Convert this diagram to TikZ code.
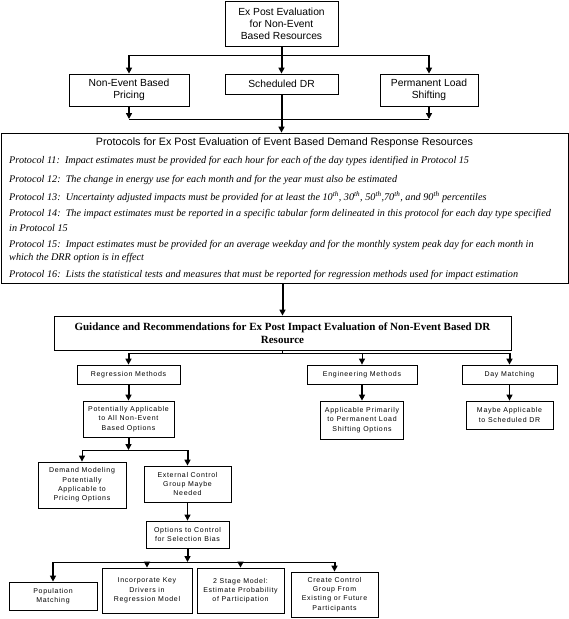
\documentclass[tikz,border=0pt]{standalone}
\usepackage{fontspec}
\setmainfont{Liberation Serif}
\newfontfamily\arialfam{Liberation Sans}
\newfontfamily\smallsansfam[LetterSpace=10]{Liberation Sans}
\usetikzlibrary{arrows.meta}
\newcommand\bigsans{\arialfam\fontsize{10.3}{12}\selectfont}
\newcommand\smallfnt{\smallsansfam\fontsize{7}{9.3}\selectfont}
\newcommand\protfnt{\fontsize{10.2}{12}\selectfont\itshape}
\begin{document}
\begin{tikzpicture}[x=1pt,y=-1pt,
  box/.style={draw, line width=0.8pt, inner sep=0pt, align=center, font=\bigsans},
  sbox/.style={draw, line width=0.8pt, inner sep=0pt, align=center, font=\smallfnt},
  thk/.style={line width=2pt, -{Triangle[width=6pt,length=6pt]}},
  thn/.style={line width=1pt, -{Triangle[width=6pt,length=6pt]}},
  ln/.style={line width=1pt},
  ptxt/.style={anchor=west, inner sep=0pt, font=\protfnt}]
\useasboundingbox (0,0) rectangle (569,619);
% top level
\node[box, minimum width=113pt, minimum height=45pt] (top) at (281.5,23.5) {Ex Post Evaluation\\for Non-Event\\Based Resources};
\node[box, minimum width=120pt, minimum height=32pt] (nebp) at (129,90) {Non-Event Based\\Pricing};
\node[box, minimum width=113pt, minimum height=20pt] (sched) at (281.5,84) {Scheduled DR};
\node[box, minimum width=98pt, minimum height=32pt] (pls) at (429,90) {Permanent Load\\Shifting};
% protocols
\node[draw, line width=0.8pt, minimum width=567pt, minimum height=150pt, inner sep=0pt] (prot) at (284.5,208) {};
\node[inner sep=0pt, font=\arialfam\fontsize{10.7}{12}\selectfont] (ptitle) at (284.5,143) {Protocols for Ex Post Evaluation of Event Based Demand Response Resources};
\node[ptxt] (p11) at (9,161) {Protocol 11:\ \ Impact estimates must be provided for each hour for each of the day types identified in Protocol 15};
\node[ptxt] (p12) at (9,180) {Protocol 12:\ \ The change in energy use for each month and for the year must also be estimated};
\node[ptxt] (p13) at (9,197) {Protocol 13:\ \ Uncertainty adjusted impacts must be provided for at least the 10\textsuperscript{th}, 30\textsuperscript{th}, 50\textsuperscript{th},70\textsuperscript{th}, and 90\textsuperscript{th} percentiles};
\node[ptxt] (p14a) at (9,214) {Protocol 14:\ \ The impact estimates must be reported in a specific tabular form delineated in this protocol for each day type specified};
\node[ptxt] (p14b) at (9,228) {in Protocol 15};
\node[ptxt] (p15a) at (9,245) {Protocol 15:\ \ Impact estimates must be provided for an average weekday and for the monthly system peak day for each month in};
\node[ptxt] (p15b) at (9,258) {which the DRR option is in effect};
\node[ptxt] (p16) at (9,275) {Protocol 16:\ \ Lists the statistical tests and measures that must be reported for regression methods used for impact estimation};
% guidance
\node[draw, line width=0.8pt, minimum width=457pt, minimum height=34pt, inner sep=0pt, align=center, font=\fontsize{11}{13}\selectfont\bfseries] (guid) at (282.5,333) {Guidance and Recommendations for Ex Post Impact Evaluation of Non-Event Based DR\\Resource};
% methods
\node[sbox, minimum width=103pt, minimum height=19pt] (reg) at (128.5,374.5) {Regression Methods};
\node[sbox, minimum width=110pt, minimum height=19pt] (eng) at (362,374.5) {Engineering Methods};
\node[sbox, minimum width=95pt, minimum height=19pt] (day) at (509.5,374.5) {Day Matching};
\node[sbox, minimum width=91pt, minimum height=36pt] (pot) at (128.5,419) {Potentially Applicable\\to All Non-Event\\Based Options};
\node[sbox, minimum width=83pt, minimum height=38pt] (app) at (362,420) {Applicable Primarily\\to Permanent Load\\Shifting Options};
\node[sbox, minimum width=87pt, minimum height=28pt] (maybe) at (509.5,415) {Maybe Applicable\\to Scheduled DR};
\node[sbox, minimum width=88pt, minimum height=46pt] (dem) at (82,485) {Demand Modeling\\Potentially\\Applicable to\\Pricing Options};
\node[sbox, minimum width=87pt, minimum height=36pt] (ext) at (187.5,484) {External Control\\Group Maybe\\Needed};
\node[sbox, minimum width=83pt, minimum height=27pt] (opt) at (187.5,534.5) {Options to Control\\for Selection Bias};
\node[sbox, minimum width=88pt, minimum height=28pt] (popm) at (53,596) {Population\\Matching};
\node[sbox, minimum width=90pt, minimum height=45pt] (inc) at (147,590.5) {Incorporate Key\\Drivers in\\Regression Model};
\node[sbox, minimum width=87pt, minimum height=45pt] (stg) at (240.5,590.5) {2 Stage Model:\\Estimate Probability\\of Participation};
\node[sbox, minimum width=87pt, minimum height=45pt] (crt) at (334.5,594.5) {Create Control\\Group From\\Existing or Future\\Participants};
% line coordinates
\coordinate (h1) at (0,55);
\coordinate (h2) at (0,119);
\coordinate (h3) at (0,353);
\coordinate (h4) at (0,450);
\coordinate (h5) at (0,562);
% top connectors
\draw[ln] (nebp.north |- h1) -- (pls.north |- h1);
\draw[thk] (top.south) -- (sched.north);
\draw[thk] (nebp.north |- h1) -- (nebp.north);
\draw[thk] (pls.north |- h1) -- (pls.north);
\draw[ln] (nebp.south |- h2) -- (pls.south |- h2);
\draw[thk] (nebp.south) -- (nebp.south |- h2);
\draw[thk] (pls.south) -- (pls.south |- h2);
\draw[thk] (sched.south) -- (sched.south |- prot.north);
\draw[thk] (guid.north |- prot.south) -- (guid.north);
% guidance fan-out
\draw[ln] (guid.south) -- (guid.south |- h3);
\draw[ln] (reg.north |- h3) -- (day.north |- h3);
\draw[thk] (reg.north |- h3) -- (reg.north);
\draw[thn] (eng.north |- h3) -- (eng.north);
\draw[thk] (day.north |- h3) -- (day.north);
\draw[thk] (reg.south) -- (pot.north);
\draw[thk] (eng.south) -- (eng.south |- app.north);
\draw[thn] (day.south) -- (maybe.north);
% regression branch
\draw[thk] (pot.south) -- (pot.south |- h4);
\draw[ln] (dem.north |- h4) -- (ext.north |- h4);
\draw[thn] (dem.north |- h4) -- (dem.north);
\draw[thk] (ext.north |- h4) -- (ext.north);
\draw[thn] (ext.south) -- (opt.north);
\draw[thk] (opt.south) -- (opt.south |- h5);
\draw[ln] (popm.north |- h5) -- (crt.north |- h5);
\draw[thk] (popm.north |- h5) -- (popm.north);
\draw[thk] (inc.north |- h5) -- (inc.north);
\draw[thk] (stg.north |- h5) -- (stg.north);
\draw[thk] (crt.north |- h5) -- (crt.north);
\end{tikzpicture}
\end{document}
